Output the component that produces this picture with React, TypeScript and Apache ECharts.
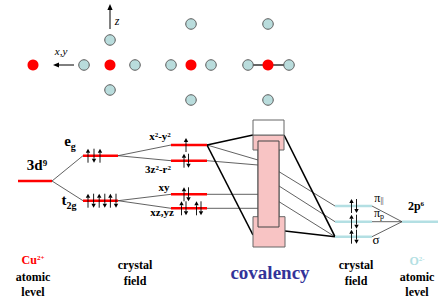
import React, { useEffect, useRef } from "react";
import * as echarts from "echarts";

const W = 438;
const H = 304;

// ---- diagram content ----
const egElectrons = [1, -1, 1];
const t2gElectrons = [1, -1, 1, -1, 1, -1];
const orbitalElectrons = [[1], [1, -1], [1, -1], [1, -1, 1, -1]];
const oxygenElectrons = [[1, -1], [1, -1], [1, -1]];
// label parts: [text, role]  role: b = base, p = superscript, s = subscript
const axisLabels = [[["x,y", "b"]], [["z", "b"]]];
const cuLabels = [[["3d", "b"], ["9", "p"]], [["e", "b"], ["g", "s"]], [["t", "b"], ["2g", "s"]]];
const orbitalLabels = [
  [["x", "b"], ["2", "p"], ["-y", "b"], ["2", "p"]],
  [["3z", "b"], ["2", "p"], ["-r", "b"], ["2", "p"]],
  [["xy", "b"]],
  [["xz,yz", "b"]],
];
const bondLabels = [[["σ*", "b"]], [["σ", "b"]]];
const oxygenLabels = [[["π", "b"], ["||", "s"]], [["π", "b"], ["p", "s"]], [["σ", "b"]], [["2p", "b"], ["6", "p"]]];
const bottomLabels = [
  [["Cu", "b"], ["2+", "p"]], [["atomic", "b"]], [["level", "b"]],
  [["crystal", "b"]], [["field", "b"]],
  [["covalency", "b"]],
  [["crystal", "b"]], [["field", "b"]],
  [["O", "b"], ["2-", "p"]], [["atomic", "b"]], [["level", "b"]],
];

// ---- layout (diagram coordinates, one unit = one pixel) ----
const RED = "#ff0000";
const CYAN = "#b3dfe3";
const BLUE_ATOM = "#b9dcdc";
const F = "Liberation Serif";

const yCu = 181;
const yEg = 155.7;
const yT2g = 200.7;
const yOrb = [145, 160.7, 194.3, 208.3];
const yO = [206, 221.7, 236.7];
const y2p = 221.7;

type Seg = [number, number, number, number, string];
const segs: Seg[] = [];
segs.push([52, yCu, 83, yEg, "thin"], [52, yCu, 83, yT2g, "thin"]);
segs.push([118, yEg, 171, yOrb[0], "thin"], [118, yEg, 171, yOrb[1], "thin"]);
segs.push([118, yT2g, 171, yOrb[2], "thin"], [118, yT2g, 171, yOrb[3], "thin"]);
segs.push([207, yOrb[0], 258, 160, "thin"], [207, yOrb[1], 258, 165, "thin"]);
segs.push([207, yOrb[2], 258, yOrb[2], "thin"], [207, yOrb[3], 258, yOrb[3], "thin"]);
segs.push([279, 171.7, 335, yO[0], "thin"], [279, 186, 335, yO[1], "thin"], [279, 201.7, 335, yO[2], "thin"]);
yO.forEach((y) => segs.push([372, y, 402, y2p, "thin"]));
segs.push([207, yOrb[0], 253, 135, "thick"], [207, yOrb[0], 253, 235, "thick"]);
segs.push([284, 135, 335, yO[2], "thick"], [285, 231, 335, yO[2], "thick"]);
segs.push([18, yCu, 52, yCu, "red"]);
segs.push([83, yEg, 118, yEg, "red"], [83, yT2g, 118, yT2g, "red"]);
yOrb.forEach((y) => segs.push([171, y, 207, y, "red"]));
yO.forEach((y) => segs.push([335, y, 372, y, "cyan"]));
segs.push([402, y2p, 438, y2p, "cyan"]);
segs.push([248, 65, 289, 65, "bond"]);

const segStyle: Record<string, any> = {
  thin: { stroke: "#3a3a3a", lineWidth: 0.8 },
  thick: { stroke: "#000", lineWidth: 1.6 },
  red: { stroke: RED, lineWidth: 2.6 },
  cyan: { stroke: CYAN, lineWidth: 2.6 },
  bond: { stroke: "#333", lineWidth: 1.4 },
};

// electron arrows [x, y, dir]
const electrons: number[][] = [];
egElectrons.forEach((d, i) => electrons.push([88 + i * 6, yEg, d]));
t2gElectrons.forEach((d, i) => electrons.push([88 + i * 5.6, yT2g, d]));
const orbX = [[186], [184, 188.5], [184, 188.5], [181.5, 186, 196.5, 201]];
orbitalElectrons.forEach((arr, k) => arr.forEach((d, i) => electrons.push([orbX[k][i], yOrb[k], d])));
oxygenElectrons.forEach((arr, k) => arr.forEach((d, i) => electrons.push([351.5 + i * 5, yO[k], d])));

// axis arrows [x1,y1,x2,y2] (head at x2,y2)
const axisArrows = [
  [74, 65, 53, 65],
  [110, 29, 110, 4],
];

const redAtoms = [[33, 65], [110, 65], [191, 65], [268, 65]];
const blueAtoms = [
  [84, 65], [135, 65], [110, 40], [110, 90],
  [171, 65], [211, 65], [191, 24], [191, 100],
  [248, 65], [289, 65], [268, 24], [268, 100],
];

const pinkShape = [
  [253, 135], [284, 135], [284, 150], [279, 150], [279, 216.7], [285, 216.7],
  [285, 247], [253, 247], [253, 216.7], [258, 216.7], [258, 150], [253, 150],
];
const innerRect = [[258, 141], [279, 141], [279, 227], [258, 227]];
const sigmaStarBox = [[253, 120], [284, 120], [284, 135], [253, 135]];

type LabelSpec = { parts: string[][]; cx: number; cy: number; size: number; weight: string; color: string; italic?: boolean; subDy?: number };
const labelSpecs: LabelSpec[] = [
  { parts: axisLabels[0], cx: 61, cy: 52, size: 11, weight: "normal", color: "#000", italic: true },
  { parts: axisLabels[1], cx: 117, cy: 22, size: 12, weight: "normal", color: "#000", italic: true },
  { parts: cuLabels[0], cx: 37, cy: 166, size: 15, weight: "bold", color: "#000" },
  { parts: cuLabels[1], cx: 70, cy: 142, size: 15, weight: "bold", color: "#000" },
  { parts: cuLabels[2], cx: 69, cy: 201, size: 15, weight: "bold", color: "#000" },
  { parts: orbitalLabels[0], cx: 160, cy: 137, size: 11, weight: "bold", color: "#000" },
  { parts: orbitalLabels[1], cx: 158, cy: 170, size: 11, weight: "bold", color: "#000" },
  { parts: orbitalLabels[2], cx: 164, cy: 188, size: 11, weight: "bold", color: "#000" },
  { parts: orbitalLabels[3], cx: 162, cy: 213, size: 11, weight: "bold", color: "#000" },
  { parts: bondLabels[0], cx: 268.5, cy: 128, size: 12, weight: "bold", color: "#000" },
  { parts: bondLabels[1], cx: 269, cy: 240, size: 13, weight: "normal", color: "#000" },
  { parts: oxygenLabels[0], cx: 379, cy: 199, size: 12, weight: "normal", color: "#000", subDy: 0.36 },
  { parts: oxygenLabels[1], cx: 379, cy: 214, size: 12, weight: "normal", color: "#000", subDy: 0.4 },
  { parts: oxygenLabels[2], cx: 376, cy: 240, size: 13, weight: "normal", color: "#000" },
  { parts: oxygenLabels[3], cx: 416, cy: 207, size: 12, weight: "bold", color: "#000" },
  { parts: bottomLabels[0], cx: 33, cy: 261, size: 12, weight: "bold", color: RED },
  { parts: bottomLabels[1], cx: 33, cy: 278, size: 12, weight: "bold", color: "#000" },
  { parts: bottomLabels[2], cx: 33, cy: 293, size: 12, weight: "bold", color: "#000" },
  { parts: bottomLabels[3], cx: 135, cy: 266, size: 12, weight: "bold", color: "#000" },
  { parts: bottomLabels[4], cx: 135, cy: 282, size: 12, weight: "bold", color: "#000" },
  { parts: bottomLabels[5], cx: 270, cy: 273, size: 19, weight: "bold", color: "#333399" },
  { parts: bottomLabels[6], cx: 356, cy: 266, size: 12, weight: "bold", color: "#000" },
  { parts: bottomLabels[7], cx: 356, cy: 282, size: 12, weight: "bold", color: "#000" },
  { parts: bottomLabels[8], cx: 417, cy: 262, size: 12, weight: "bold", color: CYAN },
  { parts: bottomLabels[9], cx: 417, cy: 278, size: 12, weight: "bold", color: "#000" },
  { parts: bottomLabels[10], cx: 417, cy: 293, size: 12, weight: "bold", color: "#000" },
];

let measureCtx: CanvasRenderingContext2D | null = null;
function measure(text: string, size: number, weight: string, italic?: boolean) {
  if (!measureCtx) measureCtx = document.createElement("canvas").getContext("2d");
  if (!measureCtx) return text.length * size * 0.5;
  measureCtx.font = `${italic ? "italic " : ""}${weight} ${size}px ${F}`;
  return measureCtx.measureText(text).width;
}

function buildLabel(spec: LabelSpec) {
  const S = spec.size;
  const pieces = spec.parts.map(([t, role]) => {
    const sz = role === "b" ? S : role === "p" ? Math.round(S * 0.62) : Math.round(S * 0.66);
    return { t, role, sz, w: measure(t, sz, spec.weight, spec.italic) };
  });
  const total = pieces.reduce((a, p) => a + p.w, 0);
  let x = spec.cx - total / 2;
  const baseTop = spec.cy - 0.55 * S;
  const subDy = spec.subDy ?? 0.5;
  const out: any[] = [];
  pieces.forEach((p) => {
    const top = p.role === "b" ? baseTop : p.role === "p" ? baseTop + 0.02 * S : baseTop + subDy * S;
    const style: any = {
      text: p.t,
      fontFamily: F,
      fontSize: p.sz,
      fontWeight: spec.weight,
      fill: spec.color,
    };
    if (spec.italic) style.fontStyle = "italic";
    out.push({ type: "text", x, y: top, style });
    x += p.w;
  });
  return out;
}

export default function App() {
  const ref = useRef<HTMLDivElement>(null);
  useEffect(() => {
    if (!ref.current) return;
    const chart = echarts.init(ref.current, undefined, { renderer: "svg" });

    const graphics: any[] = [];
    labelSpecs.forEach((s) => graphics.push(...buildLabel(s)));

    const polyItem = (pts: number[][], fill: string, stroke: string, api: any) => ({
      type: "polygon",
      shape: { points: pts.map((p) => api.coord(p)) },
      style: { fill, stroke, lineWidth: 1 },
    });

    chart.setOption({
      animation: false,
      grid: { left: 0, right: 0, top: 0, bottom: 0 },
      xAxis: { type: "value", min: 0, max: W, show: false },
      yAxis: { type: "value", min: 0, max: H, inverse: true, show: false },
      graphic: graphics,
      series: [
        {
          type: "custom",
          z: 2,
          silent: true,
          data: segs.map((s) => [s[0], s[1], s[2], s[3]]),
          renderItem: (params: any, api: any) => {
            const s = segs[params.dataIndex];
            const a = api.coord([s[0], s[1]]);
            const b = api.coord([s[2], s[3]]);
            return {
              type: "line",
              shape: { x1: a[0], y1: a[1], x2: b[0], y2: b[1] },
              style: segStyle[s[4]],
            };
          },
        },
        {
          type: "custom",
          z: 5,
          silent: true,
          data: [[0]],
          renderItem: (params: any, api: any) => ({
            type: "group",
            children: [
              polyItem(pinkShape, "#f8c4c4", "#666", api),
              polyItem(innerRect, "#f8c4c4", "#444", api),
              polyItem(sigmaStarBox, "#ffffff", "#666", api),
            ],
          }),
        },
        {
          type: "custom",
          z: 6,
          silent: true,
          data: electrons,
          renderItem: (params: any, api: any) => {
            const e = electrons[params.dataIndex];
            const c = api.coord([e[0], e[1]]);
            const d = e[2];
            const tip = c[1] - 7 * d;
            const tail = c[1] + 7 * d;
            const b = tip + 4 * d;
            return {
              type: "group",
              children: [
                { type: "line", shape: { x1: c[0], y1: tail, x2: c[0], y2: b }, style: { stroke: "#000", lineWidth: 0.9 } },
                { type: "polygon", shape: { points: [[c[0], tip], [c[0] - 2.2, b], [c[0] + 2.2, b]] }, style: { fill: "#000" } },
              ],
            };
          },
        },
        {
          type: "custom",
          z: 6,
          silent: true,
          data: axisArrows,
          renderItem: (params: any, api: any) => {
            const s = axisArrows[params.dataIndex];
            const a = api.coord([s[0], s[1]]);
            const b = api.coord([s[2], s[3]]);
            const dx = b[0] - a[0];
            const dy = b[1] - a[1];
            const L = Math.hypot(dx, dy);
            const ux = dx / L;
            const uy = dy / L;
            const hl = 6;
            const hw = 2.6;
            const bx = b[0] - ux * hl;
            const by = b[1] - uy * hl;
            return {
              type: "group",
              children: [
                { type: "line", shape: { x1: a[0], y1: a[1], x2: bx, y2: by }, style: { stroke: "#000", lineWidth: 1 } },
                {
                  type: "polygon",
                  shape: { points: [[b[0], b[1]], [bx - uy * hw, by + ux * hw], [bx + uy * hw, by - ux * hw]] },
                  style: { fill: "#000" },
                },
              ],
            };
          },
        },
        {
          type: "scatter",
          z: 8,
          symbol: "circle",
          symbolSize: 11,
          data: redAtoms,
          itemStyle: { color: RED, opacity: 1 },
          silent: true,
        },
        {
          type: "scatter",
          z: 8,
          symbol: "circle",
          symbolSize: 10.5,
          data: blueAtoms,
          itemStyle: { color: BLUE_ATOM, borderColor: "#555", borderWidth: 1, opacity: 1 },
          silent: true,
        },
      ],
    });
    return () => chart.dispose();
  }, []);
  return <div ref={ref} style={{ position: "fixed", left: 0, top: 0, width: W, height: H, background: "#fff" }} />;
}
